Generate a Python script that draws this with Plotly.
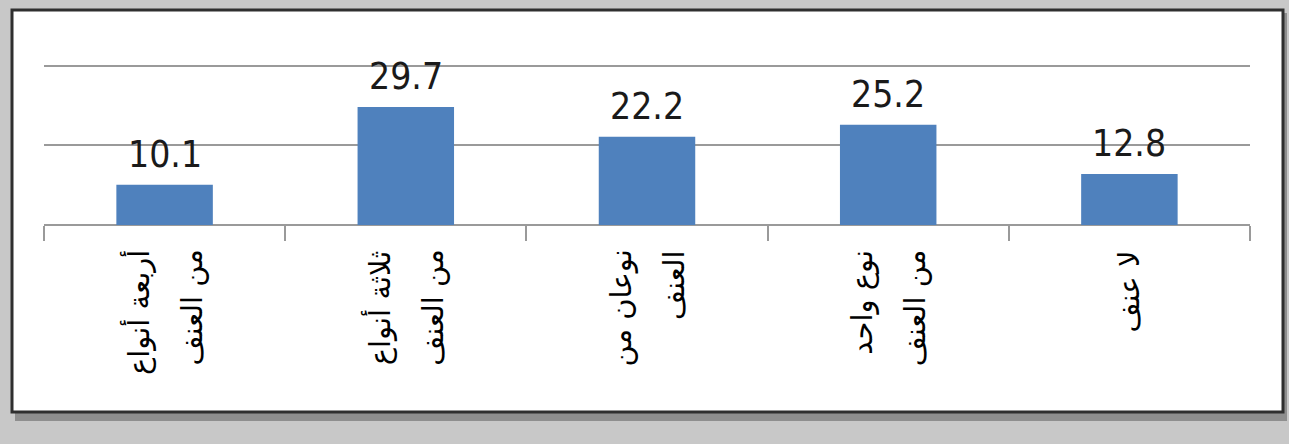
import plotly.graph_objects as go

# Share of respondents by number of violence types experienced (%)
categories = [
    "أربعة أنواع من العنف",
    "ثلاثة أنواع من العنف",
    "نوعان من العنف",
    "نوع واحد من العنف",
    "لا عنف",
]
label_lines = [
    ["أربعة أنواع", "من العنف"],
    ["ثلاثة أنواع", "من العنف"],
    ["نوعان من", "العنف"],
    ["نوع واحد", "من العنف"],
    ["لا عنف"],
]
values = [10.1, 29.7, 22.2, 25.2, 12.8]
y_ticks = [0, 20, 40]
y_max = 40.5

W, H = 1289, 444
BASE_Y, TOP40_Y = 225, 66          # pixel rows of 0 and 40
ML, MR = 44, 39
MB = H - BASE_Y
MT = TOP40_Y - round((y_max - 40) * (BASE_Y - TOP40_Y) / 40)
PW, PH = W - ML - MR, H - MT - MB


def px_x(p):
    return (p - ML) / PW


def px_y(p):
    return (H - MB - p) / PH


BAR = "#4f81bd"
GRID = "#9a9a9a"
NARROW = "Liberation Sans Narrow, DejaVu Sans Condensed, Arial Narrow, Liberation Sans, sans-serif"

fig = go.Figure(
    go.Bar(
        x=categories,
        y=values,
        marker=dict(color=BAR, line=dict(width=0)),
        width=0.4,
        hoverinfo="skip",
    )
)

# value labels above bars
for c, v in zip(categories, values):
    fig.add_annotation(
        x=c, y=v, xref="x", yref="y", text=f"{v:.1f}", showarrow=False,
        yanchor="bottom", yshift=7,
        font=dict(family=NARROW, size=37, color="#1a1a1a"),
    )

# rotated Arabic category labels, one annotation per line
for c, lines in zip(categories, label_lines):
    n = len(lines)
    gap = 54
    for i, line in enumerate(lines):
        off = (i - (n - 1) / 2) * gap
        fig.add_annotation(
            x=c, y=0, xref="x", yref="y", text=line, showarrow=False,
            textangle=-90, yanchor="top", xanchor="center",
            xshift=off, yshift=-23,
            font=dict(family="DejaVu Sans", size=29, color="#000000"),
        )

# drop shadow and framed white panel
fig.add_shape(
    type="rect", xref="paper", yref="paper", layer="below",
    x0=px_x(15), x1=px_x(1287), y0=px_y(13), y1=px_y(421),
    fillcolor="rgba(70,70,70,0.45)", line=dict(width=0),
)
fig.add_shape(
    type="rect", xref="paper", yref="paper", layer="below",
    x0=px_x(12), x1=px_x(1283), y0=px_y(10), y1=px_y(412),
    fillcolor="#ffffff", line=dict(color="#2f2f2f", width=3),
)

fig.update_layout(
    width=W, height=H,
    margin=dict(l=ML, r=MR, t=MT, b=MB),
    paper_bgcolor="#c8c8c8",
    plot_bgcolor="rgba(0,0,0,0)",
    showlegend=False,
)
fig.update_xaxes(
    showticklabels=False,
    tickson="boundaries", ticks="outside", ticklen=15, tickwidth=2, tickcolor=GRID,
    showgrid=False, showline=False, zeroline=False,
)
fig.update_yaxes(
    range=[0, y_max], tickvals=y_ticks, showticklabels=False,
    showgrid=True, gridcolor=GRID, gridwidth=2,
    zeroline=True, zerolinecolor=GRID, zerolinewidth=2,
    showline=False, ticks="",
)

fig.write_html("out.html")
